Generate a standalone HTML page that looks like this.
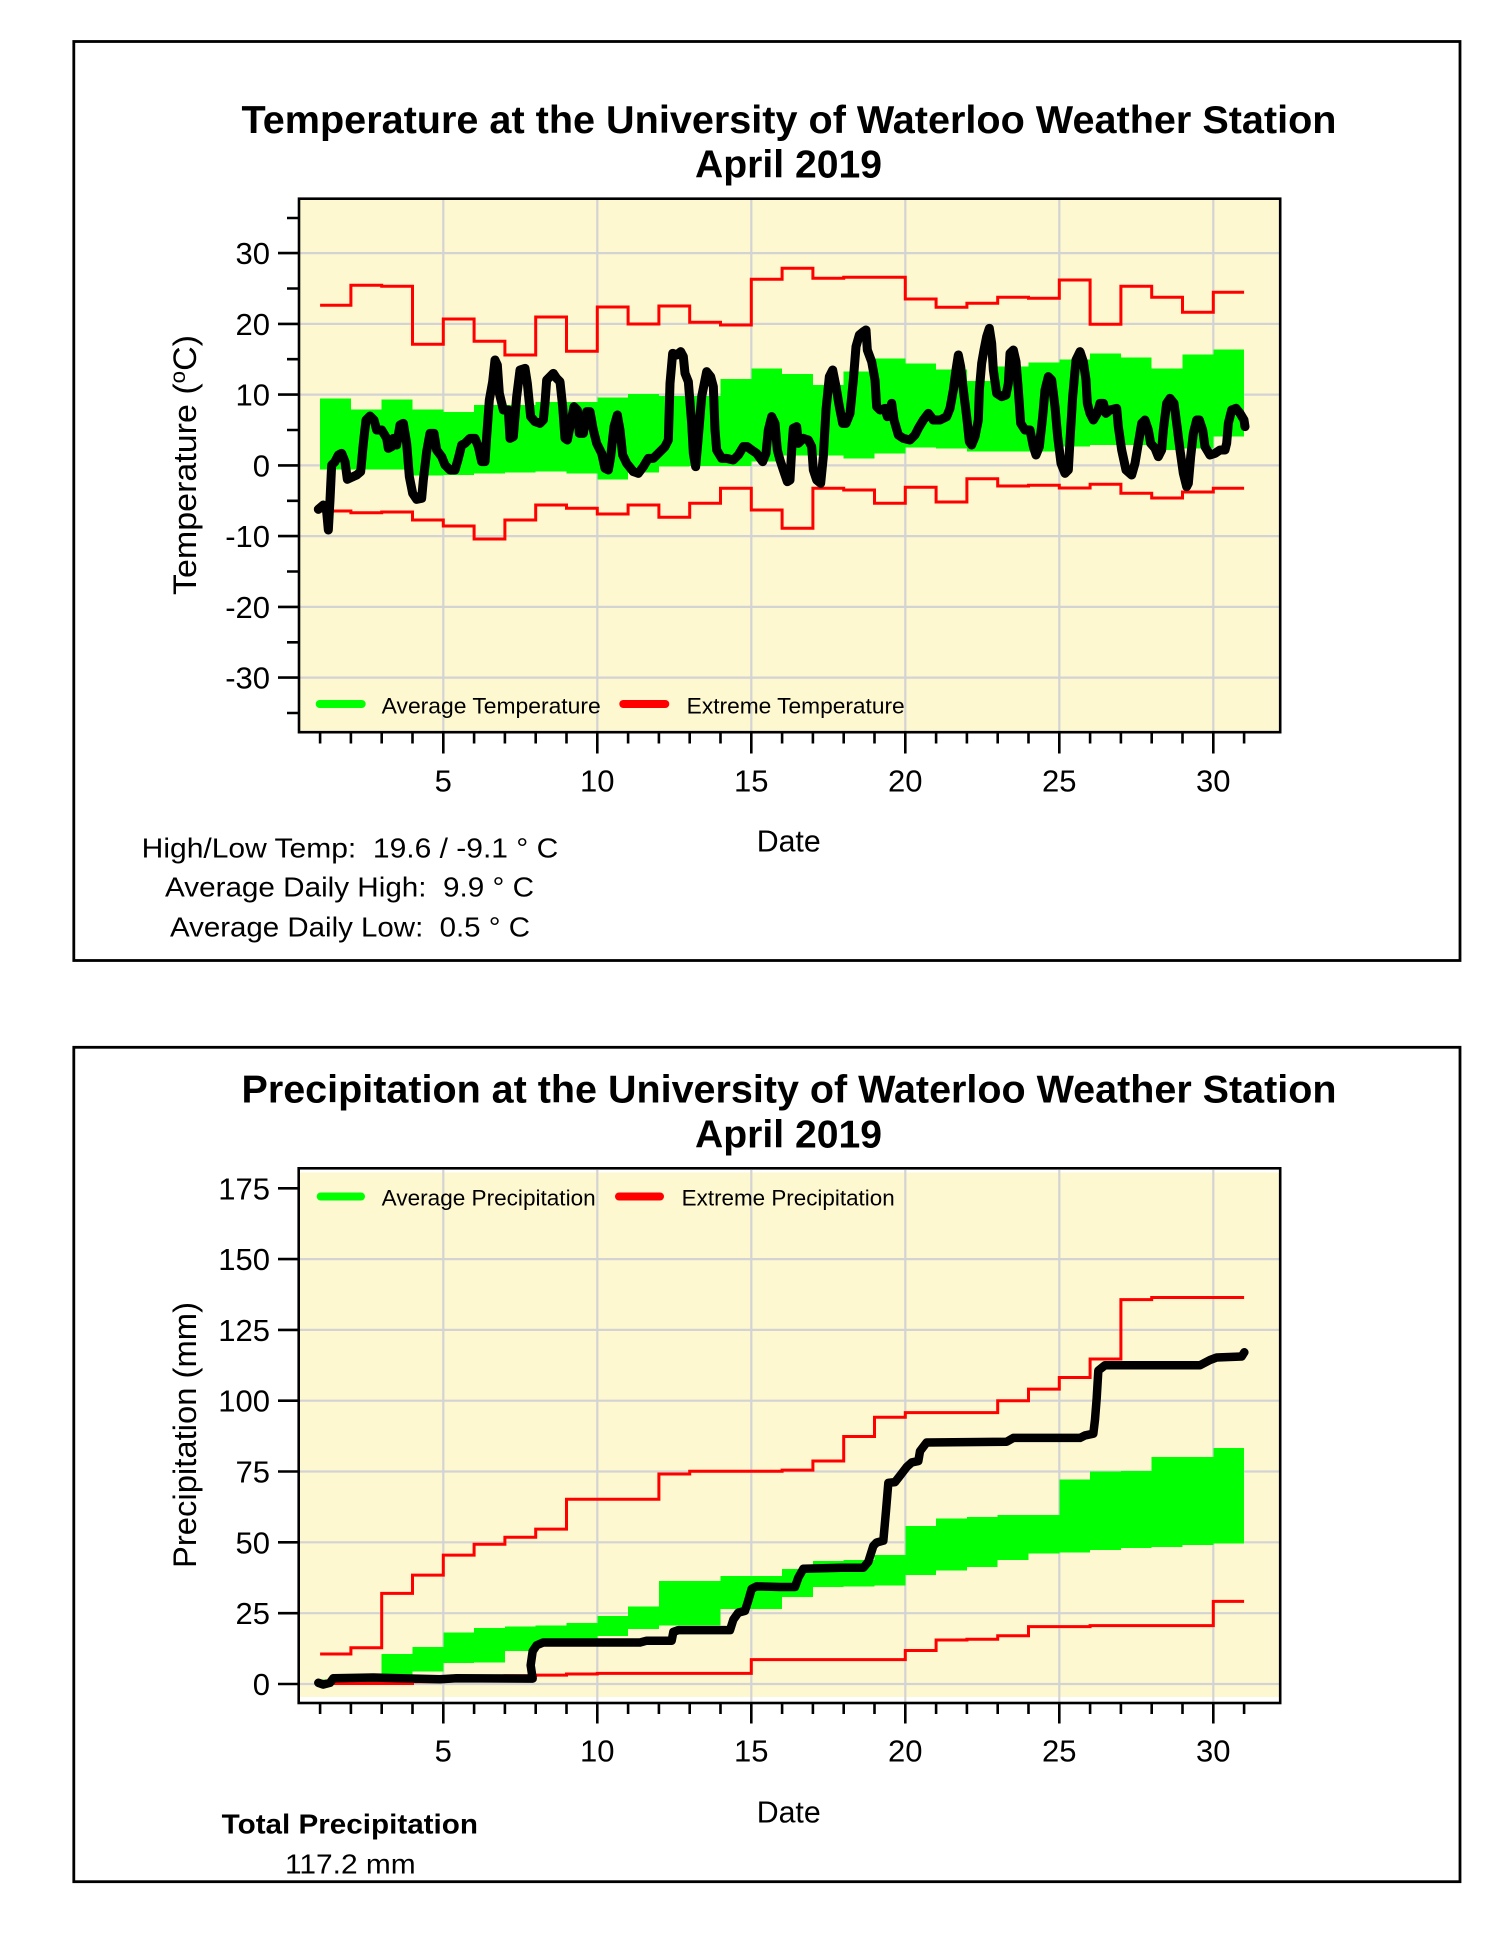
<!DOCTYPE html>
<html>
<head>
<meta charset="utf-8">
<style>
html,body{margin:0;padding:0;background:#fff;}
svg{display:block;font-family:"Liberation Sans",Arial,sans-serif;}
text{fill:#000;}
</style>
</head>
<body>
<svg width="1500" height="1941" viewBox="0 0 1500 1941" xmlns="http://www.w3.org/2000/svg">
<rect x="0" y="0" width="1500" height="1941" fill="#fff"/>

<!-- ================= TEMPERATURE ================= -->
<rect x="73.8" y="41.5" width="1386.2" height="919" fill="none" stroke="#000" stroke-width="2.8"/>

<text x="789" y="133" text-anchor="middle" font-weight="bold" font-size="39" textLength="1095" lengthAdjust="spacingAndGlyphs">Temperature at the University of Waterloo Weather Station</text>
<text x="788.5" y="177.5" text-anchor="middle" font-weight="bold" font-size="39" textLength="187" lengthAdjust="spacingAndGlyphs">April 2019</text>

<rect x="299" y="199" width="981" height="533" fill="#FEF8D0"/>
<g stroke="#D3D3D3" stroke-width="2.2">
<path d="M300 253.1H1279M300 323.9H1279M300 394.6H1279M300 465.4H1279M300 536.1H1279M300 606.9H1279M300 677.6H1279"/>
<path d="M443.3 200V731M597.3 200V731M751.3 200V731M905.3 200V731M1059.3 200V731M1213.3 200V731"/>
</g>
<path fill="#00FF00" shape-rendering="crispEdges" d="M320.1 398.3H350.9V469.3H320.1Z M350.9 409.3H381.7V469.3H350.9Z M381.7 399.3H412.5V469.3H381.7Z M412.5 409.3H443.3V475.7H412.5Z M443.3 412H474.1V475H443.3Z M474.1 405H504.9V473.3H474.1Z M504.9 405H535.7V472.7H504.9Z M535.7 402H566.5V471.7H535.7Z M566.5 402H597.3V473.3H566.5Z M597.3 397.3H628.1V479.3H597.3Z M628.1 394H658.9V472.7H628.1Z M658.9 396H689.7V466.7H658.9Z M689.7 396H720.5V466H689.7Z M720.5 379H751.3V466H720.5Z M751.3 368.3H782.1V461.7H751.3Z M782.1 374H812.9V455.7H782.1Z M812.9 385H843.7V455.7H812.9Z M843.7 371.7H874.5V458.3H843.7Z M874.5 358.3H905.3V453.3H874.5Z M905.3 363.3H936.1V447.7H905.3Z M936.1 369.3H966.9V448.3H936.1Z M966.9 381H997.7V451.7H966.9Z M997.7 366.7H1028.5V451.7H997.7Z M1028.5 362.3H1059.3V451.7H1028.5Z M1059.3 359.3H1090.1V446.7H1059.3Z M1090.1 353.3H1120.9V445H1090.1Z M1120.9 357.3H1151.7V445H1120.9Z M1151.7 368.3H1182.5V450H1151.7Z M1182.5 354.3H1213.3V448.3H1182.5Z M1213.3 349.3H1244.1V436.7H1213.3Z"/>
<g fill="none" stroke="#FF0000" stroke-width="3">
<path d="M320.1 305.3H350.9V285.3H381.7V286.3H412.5V344.3H443.3V319H474.1V341.3H504.9V355H535.7V317H566.5V351.3H597.3V307H628.1V324H658.9V306H689.7V322.3H720.5V325H751.3V279.3H782.1V268.3H812.9V278.3H843.7V277.3H905.3V299H936.1V307.3H966.9V303.3H997.7V297.3H1028.5V298.3H1059.3V280H1090.1V324.3H1120.9V286.3H1151.7V297.3H1182.5V312.3H1213.3V292.3H1244.1"/>
<path d="M320.1 511H350.9V512.7H381.7V512H412.5V520H443.3V526H474.1V539H504.9V520H535.7V505H566.5V508.3H597.3V514H628.1V505H658.9V517.3H689.7V503.3H720.5V488.3H751.3V510H782.1V528.3H812.9V488.3H843.7V490H874.5V503.3H905.3V487.3H936.1V502H966.9V478.7H997.7V486H1028.5V485.3H1059.3V488H1090.1V484.3H1120.9V493.3H1151.7V498H1182.5V492H1213.3V488.3H1244.1"/>
</g>
<g transform="translate(290,190) scale(0.333333)">
<polyline fill="none" stroke="#000" stroke-width="27" stroke-linejoin="round" stroke-linecap="round" points="85,958 100,945 110,965 115,1020 120,930 125,825 135,815 145,795 155,790 165,815 172,868 185,862 200,855 212,845 220,760 228,690 240,678 252,690 260,720 275,720 290,745 295,775 305,770 310,745 320,765 330,705 340,700 350,760 358,860 368,910 380,928 395,925 400,870 410,785 420,730 432,730 440,780 455,800 465,825 480,840 495,840 505,805 515,765 525,760 540,745 555,745 565,770 575,815 585,815 590,740 598,630 608,575 615,510 622,525 628,610 640,660 655,660 660,745 670,740 680,620 690,540 705,535 712,580 722,680 735,695 750,700 760,690 765,640 770,570 780,560 790,550 800,565 810,575 818,650 825,745 832,750 842,700 852,650 862,660 868,730 880,730 890,665 900,665 910,720 920,760 935,790 945,835 955,840 962,800 972,710 982,675 990,720 998,795 1010,820 1030,845 1045,850 1060,830 1075,805 1090,805 1110,785 1125,770 1135,750 1140,580 1148,490 1160,495 1172,485 1180,500 1185,550 1195,575 1205,700 1210,790 1217,830 1225,740 1235,620 1250,545 1262,560 1270,590 1275,720 1280,780 1295,805 1310,805 1330,810 1345,795 1360,770 1372,770 1385,780 1400,790 1418,815 1428,790 1435,720 1445,680 1455,700 1462,780 1470,810 1480,840 1492,875 1500,870 1505,780 1510,715 1520,710 1525,760 1540,745 1555,750 1565,770 1570,840 1580,870 1592,880 1600,800 1608,660 1618,560 1628,540 1638,590 1648,650 1658,700 1668,700 1680,670 1690,570 1698,470 1708,435 1720,425 1728,420 1732,480 1745,515 1755,570 1760,650 1770,660 1785,655 1792,680 1805,640 1812,690 1825,735 1840,745 1860,750 1875,735 1885,715 1900,690 1915,670 1930,690 1950,690 1970,680 1980,655 1990,600 1998,540 2005,495 2012,530 2020,600 2030,680 2038,755 2045,765 2055,740 2065,690 2068,600 2075,520 2082,480 2090,440 2098,415 2105,460 2110,540 2120,610 2135,620 2148,615 2155,580 2160,490 2170,480 2178,515 2185,600 2192,700 2205,720 2220,720 2230,770 2238,795 2248,770 2258,680 2265,600 2275,560 2285,570 2295,650 2303,740 2313,820 2325,850 2335,840 2340,750 2348,620 2358,510 2370,485 2380,515 2388,570 2392,640 2400,670 2410,690 2422,670 2430,640 2440,640 2448,670 2460,660 2480,655 2485,710 2495,780 2508,840 2525,855 2535,820 2545,760 2555,700 2565,690 2575,720 2582,760 2595,775 2605,800 2615,780 2620,720 2630,640 2640,625 2652,640 2660,700 2670,780 2680,850 2690,890 2695,880 2702,800 2710,730 2720,690 2728,690 2738,720 2745,770 2760,795 2775,790 2790,780 2805,780 2810,760 2815,700 2825,660 2838,655 2850,670 2862,690 2865,710"/>
</g>
<line x1="319.7" y1="704" x2="361.7" y2="704" stroke="#00FF00" stroke-width="8" stroke-linecap="round"/>
<text x="381.7" y="713.3" font-size="22" textLength="219" lengthAdjust="spacingAndGlyphs">Average Temperature</text>
<line x1="623.3" y1="704" x2="665.3" y2="704" stroke="#FF0000" stroke-width="8" stroke-linecap="round"/>
<text x="686.7" y="713.3" font-size="22" textLength="218" lengthAdjust="spacingAndGlyphs">Extreme Temperature</text>
<rect x="299" y="198.7" width="981.2" height="533.5" fill="none" stroke="#000" stroke-width="2.6"/>
<g stroke="#000" stroke-width="2.6">
<path d="M278 253.1H298M278 323.9H298M278 394.6H298M278 465.4H298M278 536.1H298M278 606.9H298M278 677.6H298"/>
<path d="M287 218H298M287 288.5H298M287 359.2H298M287 430H298M287 500.8H298M287 571.5H298M287 642.3H298M287 713H298"/>
<path d="M320.1 732v11.5M350.9 732v11.5M381.7 732v11.5M412.5 732v11.5M443.3 732v21.5M474.1 732v11.5M504.9 732v11.5M535.7 732v11.5M566.5 732v11.5M597.3 732v21.5M628.1 732v11.5M658.9 732v11.5M689.7 732v11.5M720.5 732v11.5M751.3 732v21.5M782.1 732v11.5M812.9 732v11.5M843.7 732v11.5M874.5 732v11.5M905.3 732v21.5M936.1 732v11.5M966.9 732v11.5M997.7 732v11.5M1028.5 732v11.5M1059.3 732v21.5M1090.1 732v11.5M1120.9 732v11.5M1151.7 732v11.5M1182.5 732v11.5M1213.3 732v21.5M1244.1 732v11.5"/>
</g>
<g font-size="31" text-anchor="end">
<text x="270" y="264.1">30</text>
<text x="270" y="334.9">20</text>
<text x="270" y="405.6">10</text>
<text x="270" y="476.4">0</text>
<text x="270" y="547.1">-10</text>
<text x="270" y="617.9">-20</text>
<text x="270" y="688.6">-30</text>
</g>
<g font-size="31" text-anchor="middle">
<text x="443.3" y="791.5">5</text>
<text x="597.3" y="791.5">10</text>
<text x="751.3" y="791.5">15</text>
<text x="905.3" y="791.5">20</text>
<text x="1059.3" y="791.5">25</text>
<text x="1213.3" y="791.5">30</text>
<text x="788.7" y="851.7" textLength="64" lengthAdjust="spacingAndGlyphs">Date</text>
</g>
<text transform="translate(196,465) rotate(-90)" text-anchor="middle" font-size="32" textLength="260" lengthAdjust="spacingAndGlyphs">Temperature (<tspan dy="-11" font-size="21">o</tspan><tspan dy="11">C)</tspan></text>
<g font-size="28" text-anchor="middle">
<text x="350" y="857.3" textLength="416.6" lengthAdjust="spacingAndGlyphs">High/Low Temp:&#160;&#160;19.6 / -9.1 ° C</text>
<text x="349.5" y="896.7" textLength="369" lengthAdjust="spacingAndGlyphs">Average Daily High:&#160;&#160;9.9 ° C</text>
<text x="350" y="936.7" textLength="360" lengthAdjust="spacingAndGlyphs">Average Daily Low:&#160;&#160;0.5 ° C</text>
</g>

<!-- ================= PRECIPITATION ================= -->
<rect x="73.8" y="1047.3" width="1386.2" height="834.4" fill="none" stroke="#000" stroke-width="2.8"/>
<text x="789" y="1102.7" text-anchor="middle" font-weight="bold" font-size="39" textLength="1095" lengthAdjust="spacingAndGlyphs">Precipitation at the University of Waterloo Weather Station</text>
<text x="788.5" y="1147.5" text-anchor="middle" font-weight="bold" font-size="39" textLength="187" lengthAdjust="spacingAndGlyphs">April 2019</text>

<rect x="299" y="1172.5" width="981" height="524.5" fill="#FEF8D0"/>
<g stroke="#D3D3D3" stroke-width="2.2">
<path d="M300 1259.1H1279M300 1329.9H1279M300 1400.7H1279M300 1471.5H1279M300 1542.3H1279M300 1613.2H1279M300 1684H1279"/>
<path d="M443.3 1170V1702M597.3 1170V1702M751.3 1170V1702M905.3 1170V1702M1059.3 1170V1702M1213.3 1170V1702"/>
</g>
<g transform="matrix(0.333333 0 0 0.350877 290 1160)">
<path fill="#00FF00" shape-rendering="crispEdges" d="M90.3 1480H182.7V1492H90.3Z M182.7 1465H275.1V1490H182.7Z M275.1 1408H367.5V1470H275.1Z M367.5 1388H459.9V1458H367.5Z M459.9 1346H552.3V1433H459.9Z M552.3 1334H644.7V1432H552.3Z M644.7 1330H737.1V1400H644.7Z M737.1 1326H829.5V1380H737.1Z M829.5 1320H921.9V1365H829.5Z M921.9 1300H1014.3V1357H921.9Z M1014.3 1272H1106.7V1337H1014.3Z M1106.7 1200H1291.5V1326H1106.7Z M1291.5 1186H1476.3V1280H1291.5Z M1476.3 1166H1568.7V1245H1476.3Z M1568.7 1143H1661.1V1217H1568.7Z M1661.1 1140H1753.5V1215H1661.1Z M1753.5 1126H1845.9V1213H1753.5Z M1845.9 1043H1938.3V1183H1845.9Z M1938.3 1022H2030.7V1170H1938.3Z M2030.7 1018H2123.1V1160H2030.7Z M2123.1 1012H2215.5V1140H2123.1Z M2215.5 1012H2307.9V1122H2215.5Z M2307.9 910H2400.3V1118H2307.9Z M2400.3 888H2492.7V1112H2400.3Z M2492.7 886H2585.1V1106H2492.7Z M2585.1 847H2677.5V1103H2585.1Z M2677.5 847H2769.9V1097H2677.5Z M2769.9 821H2862.3V1093H2769.9Z"/>
<g fill="none" stroke="#FF0000" stroke-width="3">
<path vector-effect="non-scaling-stroke" d="M90.3 1408H182.7V1390H275.1V1235H367.5V1183H459.9V1126H552.3V1095H644.7V1075H737.1V1052H829.5V967H1106.7V895H1199.1V887H1476.3V884H1568.7V858H1661.1V788H1753.5V733H1845.9V720H2123.1V686H2215.5V653H2307.9V620H2400.3V567H2492.7V398H2585.1V392H2862.3"/>
<path vector-effect="non-scaling-stroke" d="M90.3 1492H367.5V1487H459.9V1484H552.3V1473H644.7V1470H737.1V1468H829.5V1465H921.9V1463H1383.9V1424H1845.9V1398H1938.3V1368H2030.7V1366H2123.1V1356H2215.5V1330H2400.3V1327H2769.9V1258H2862.3"/>
</g>
<polyline vector-effect="non-scaling-stroke" fill="none" stroke="#000" stroke-width="8.5" stroke-linejoin="round" stroke-linecap="round" points="85,1490 100,1495 120,1490 130,1477 250,1475 450,1480 500,1477 728,1478 722,1440 728,1400 740,1383 760,1375 1050,1375 1070,1370 1145,1370 1150,1345 1165,1340 1320,1340 1330,1310 1345,1290 1365,1285 1375,1255 1385,1222 1400,1215 1470,1217 1515,1217 1525,1190 1540,1165 1655,1162 1720,1162 1735,1145 1750,1100 1760,1090 1780,1085 1788,1000 1795,920 1815,918 1830,900 1850,875 1865,862 1885,858 1890,830 1910,805 2150,803 2170,792 2370,792 2385,785 2410,780 2415,740 2420,680 2425,600 2445,585 2730,585 2760,570 2780,563 2855,560 2863,548"/>
</g>
<line x1="320.7" y1="1196.5" x2="361" y2="1196.5" stroke="#00FF00" stroke-width="8" stroke-linecap="round"/>
<text x="381.7" y="1205.6" font-size="22" textLength="214" lengthAdjust="spacingAndGlyphs">Average Precipitation</text>
<line x1="619" y1="1196.5" x2="660" y2="1196.5" stroke="#FF0000" stroke-width="8" stroke-linecap="round"/>
<text x="681.7" y="1205.6" font-size="22" textLength="213" lengthAdjust="spacingAndGlyphs">Extreme Precipitation</text>
<rect x="298.7" y="1168.3" width="981.5" height="534.7" fill="none" stroke="#000" stroke-width="2.6"/>
<g stroke="#000" stroke-width="2.6">
<path d="M278 1188.3H298M278 1259.1H298M278 1329.9H298M278 1400.7H298M278 1471.5H298M278 1542.3H298M278 1613.2H298M278 1684H298"/>
<path d="M320.1 1703v11M350.9 1703v11M381.7 1703v11M412.5 1703v11M443.3 1703v20.5M474.1 1703v11M504.9 1703v11M535.7 1703v11M566.5 1703v11M597.3 1703v20.5M628.1 1703v11M658.9 1703v11M689.7 1703v11M720.5 1703v11M751.3 1703v20.5M782.1 1703v11M812.9 1703v11M843.7 1703v11M874.5 1703v11M905.3 1703v20.5M936.1 1703v11M966.9 1703v11M997.7 1703v11M1028.5 1703v11M1059.3 1703v20.5M1090.1 1703v11M1120.9 1703v11M1151.7 1703v11M1182.5 1703v11M1213.3 1703v20.5M1244.1 1703v11"/>
</g>
<g font-size="31" text-anchor="end">
<text x="270" y="1199.3">175</text>
<text x="270" y="1270.1">150</text>
<text x="270" y="1340.9">125</text>
<text x="270" y="1411.7">100</text>
<text x="270" y="1482.5">75</text>
<text x="270" y="1553.3">50</text>
<text x="270" y="1624.2">25</text>
<text x="270" y="1695">0</text>
</g>
<g font-size="31" text-anchor="middle">
<text x="443.3" y="1761.5">5</text>
<text x="597.3" y="1761.5">10</text>
<text x="751.3" y="1761.5">15</text>
<text x="905.3" y="1761.5">20</text>
<text x="1059.3" y="1761.5">25</text>
<text x="1213.3" y="1761.5">30</text>
<text x="788.7" y="1822.5" textLength="64" lengthAdjust="spacingAndGlyphs">Date</text>
</g>
<text transform="translate(196,1435) rotate(-90)" text-anchor="middle" font-size="32" textLength="266" lengthAdjust="spacingAndGlyphs">Precipitation (mm)</text>
<text x="221.7" y="1833.3" font-size="28" font-weight="bold" textLength="256.3" lengthAdjust="spacingAndGlyphs">Total Precipitation</text>
<text x="285" y="1873.3" font-size="28" textLength="130.7" lengthAdjust="spacingAndGlyphs">117.2 mm</text>
</svg>
</body>
</html>
